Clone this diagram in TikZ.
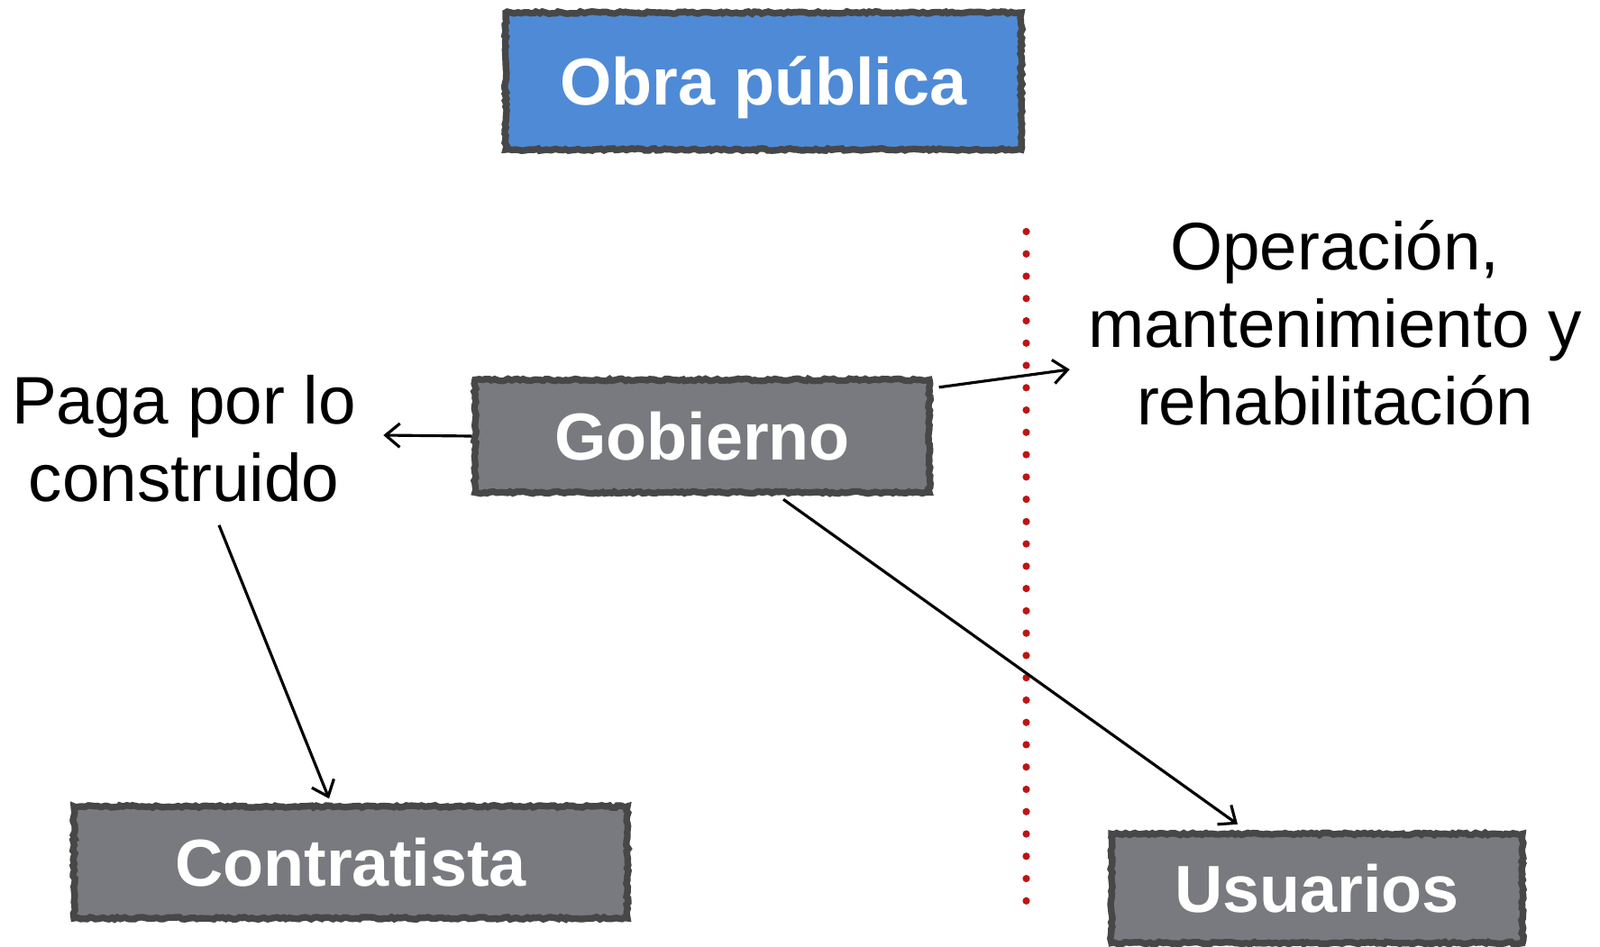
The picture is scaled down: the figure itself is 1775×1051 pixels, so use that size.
\documentclass[tikz,border=0pt]{standalone}
\usepackage{fontspec}
\setmainfont{Liberation Sans}
\usetikzlibrary{arrows.meta,calc,decorations.pathmorphing,shadows}
\definecolor{boxline}{HTML}{474747}
\definecolor{boxgray}{HTML}{797A7F}
\definecolor{boxblue}{HTML}{4F8AD6}
\definecolor{dotred}{HTML}{BE1414}
\begin{document}
\begin{tikzpicture}[x=0.02cm, y=-0.02cm,
  box/.style={draw=boxline, line width=4.2pt, text=white, inner sep=0pt,
    font=\fontsize{42}{49}\selectfont\bfseries, text height=30pt, text depth=0pt,
    decorate, decoration={random steps, segment length=2pt, amplitude=0.7pt},
    drop shadow={opacity=0.3, shadow xshift=1.5pt, shadow yshift=-2pt}},
  note/.style={font=\fontsize{42.5}{49}\selectfont, align=center, inner sep=0pt},
  link/.style={-{Straight Barb[length=9pt, width=15pt]}, line width=1.8pt}]
\useasboundingbox (0,0) rectangle (1775,1051);
% boxes
\node[box, fill=boxblue, minimum width=572*0.02cm, minimum height=152*0.02cm] (obra) at (847,90) {Obra pública};
\node[box, fill=boxgray, minimum width=504*0.02cm, minimum height=125*0.02cm] (gob) at (779,484) {Gobierno};
\node[box, fill=boxgray, minimum width=614*0.02cm, minimum height=124*0.02cm] (contr) at (389,957) {Contratista};
\node[box, fill=boxgray, minimum width=456*0.02cm, minimum height=121*0.02cm] (usu) at (1461,986) {Usuarios};
% texts
\node[note] (paga) at (204,487) {Paga por lo\\construido};
\node[note] (oper) at (1481,358) {Operación,\\mantenimiento y\\rehabilitación};
% border line
\foreach \y in {0,...,30}
  \fill[dotred] (1138.5,257+\y*24.76) circle (4.1);
% arrows
\draw[link] (gob.west) -- ($(paga.east)+(30,-4)$);
\draw[link] ($(gob.north east)+(7,12)$) -- ($(oper.west)+(-20,52)$);
\draw[link] ($(gob.south)+(90,4)$) -- ($(usu.north)+(-88,-7)$);
\draw[link] ($(paga.south)+(39,25)$) -- ($(contr.north)+(-24,-5)$);
\end{tikzpicture}
\end{document}
